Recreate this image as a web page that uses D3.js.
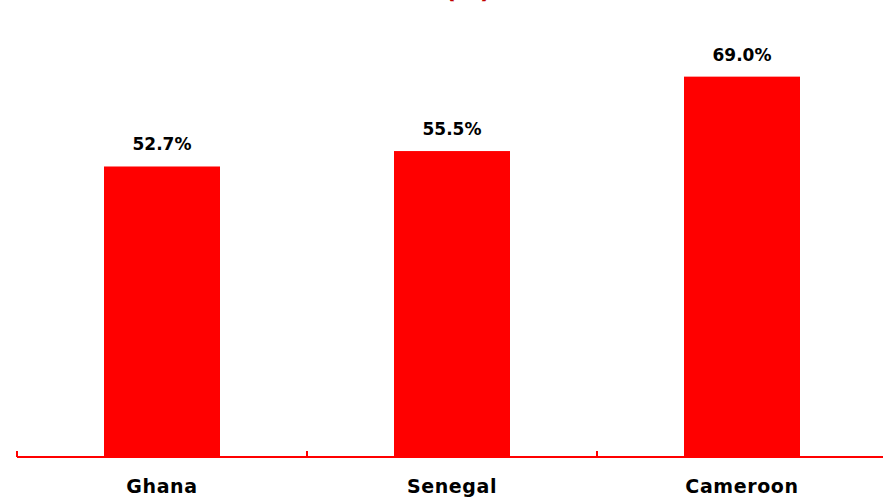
<!DOCTYPE html>
<html><head><meta charset="utf-8">
<script src="https://cdn.jsdelivr.net/npm/d3@7"></script>
<style>body{margin:0;background:#fff;}svg{display:block;}</style>
</head><body><svg id="c" width="883" height="500"></svg>
<script>
const categories = ["Ghana", "Senegal", "Cameroon"];
const values = [52.7, 55.5, 69.0];
const valueLabels = ["52.7%", "55.5%", "69.0%"];
const titleText = "(%)";

const svg = d3.select("#c");
const x = d3.scaleBand().domain(categories).range([17, 887]);
const y = d3.scaleLinear().domain([0, 80]).range([457, 16]);
const red = "#ff0000";
const font = "'DejaVu Sans', sans-serif";

svg.append("text").attr("x", 468).attr("y", -2).attr("text-anchor", "middle")
  .attr("font-family", font).attr("font-weight", "bold").attr("font-size", 24)
  .attr("fill", "#c00000").text(titleText);

const bw = x.bandwidth() * 0.4;
svg.selectAll("rect.bar").data(categories).join("rect").attr("class", "bar")
  .attr("x", d => x(d) + x.bandwidth() / 2 - bw / 2)
  .attr("width", bw)
  .attr("y", (d, i) => y(values[i]))
  .attr("height", (d, i) => y(0) - y(values[i]))
  .attr("fill", red);

svg.selectAll("text.val").data(categories).join("text").attr("class", "val")
  .attr("x", d => x(d) + x.bandwidth() / 2)
  .attr("y", (d, i) => y(values[i]) - 16)
  .attr("text-anchor", "middle").attr("font-family", font)
  .attr("font-weight", "bold").attr("font-size", 17).attr("fill", "#000")
  .text((d, i) => valueLabels[i]);

const g = svg.append("g").attr("transform", "translate(0,457)");
g.append("line").attr("x1", 17).attr("x2", 883).attr("y1", 0).attr("y2", 0)
  .attr("stroke", red).attr("stroke-width", 2);
g.selectAll("line.tk").data(categories).join("line").attr("class", "tk")
  .attr("x1", d => x(d)).attr("x2", d => x(d)).attr("y1", 0).attr("y2", -6)
  .attr("stroke", red).attr("stroke-width", 2);
svg.selectAll("text.cat").data(categories).join("text").attr("class", "cat")
  .attr("x", d => x(d) + x.bandwidth() / 2).attr("y", 493)
  .attr("text-anchor", "middle").attr("font-family", font)
  .attr("font-weight", "bold").attr("font-size", 19).attr("letter-spacing", 0.6)
  .attr("fill", "#000")
  .text(d => d);
</script></body></html>
